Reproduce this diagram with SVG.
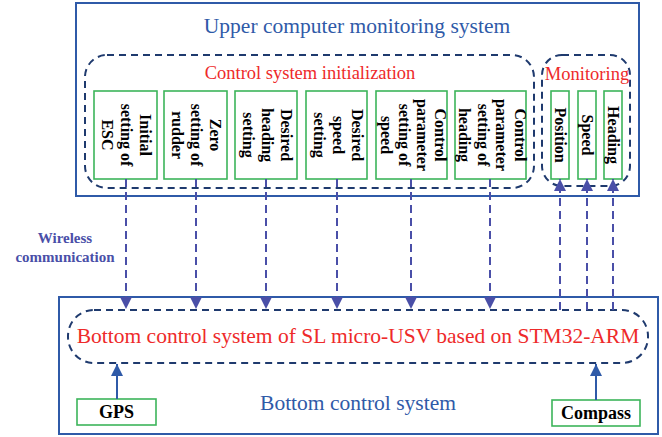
<svg xmlns="http://www.w3.org/2000/svg" width="662" height="437" viewBox="0 0 662 437">
  <defs>
    <marker id="arrowLink" viewBox="0 0 10 10" refX="10" refY="5" markerWidth="12" markerHeight="12" markerUnits="userSpaceOnUse" orient="auto">
      <path d="M0,0 L10,5 L0,10 Z" fill="#4a4fa8"/>
    </marker>
    <marker id="arrowSensor" viewBox="0 0 10 10" refX="10" refY="5" markerWidth="12" markerHeight="12" markerUnits="userSpaceOnUse" orient="auto">
      <path d="M0,0 L10,5 L0,10 Z" fill="#2f5aa8"/>
    </marker>
  </defs>
  <style>
    .frame { fill: none; stroke: #2f5aa8; stroke-width: 2; }
    .group { fill: none; stroke: #1f3a6e; stroke-width: 2; stroke-dasharray: 7 5; }
    .box { fill: #ffffff; stroke: #3cb55a; stroke-width: 1.6; }
    .title { font-family: "Liberation Serif", "Times New Roman", serif; font-size: 21.5px; fill: #2f5aa8; text-anchor: middle; }
    .red { font-family: "Liberation Serif", "Times New Roman", serif; fill: #ee2a2a; text-anchor: middle; }
    .vlabel { font-family: "Liberation Serif", "Times New Roman", serif; font-size: 16px; font-weight: bold; fill: #000000; text-anchor: middle; }
    .sensor { font-family: "Liberation Serif", "Times New Roman", serif; font-size: 18px; font-weight: bold; fill: #000000; text-anchor: middle; }
    .wl { font-family: "Liberation Serif", "Times New Roman", serif; font-size: 15px; font-weight: bold; fill: #4a4fa8; text-anchor: middle; }
    .link { fill: none; stroke: #4a4fa8; stroke-width: 2; stroke-dasharray: 8 5; }
    .feed { fill: none; stroke: #2f5aa8; stroke-width: 2; }
  </style>

  <!-- Upper computer monitoring system -->
  <g id="upper-system">
    <rect class="frame" x="76" y="3" width="563" height="193"/>
    <text class="title" x="357" y="33">Upper computer monitoring system</text>
  </g>

  <g id="init-group">
    <rect class="group" x="85" y="55" width="449" height="133" rx="22" ry="22"/>
    <text class="red" x="310" y="79" font-size="18.5px">Control system initialization</text>
  </g>

  <g id="monitor-group">
    <rect class="group" x="542" y="55" width="88" height="131" rx="20" ry="20"/>
    <text class="red" x="587" y="80" font-size="18.5px">Monitoring</text>
  </g>

  <!-- initialization items (text rotated to read top-down) -->
  <g id="esc">
    <rect class="box" x="94" y="91" width="63" height="88"/>
    <g transform="translate(125.5,135) rotate(90)">
      <text class="vlabel" x="0" y="-14">Initial</text>
      <text class="vlabel" x="0" y="5">setting of</text>
      <text class="vlabel" x="0" y="24">ESC</text>
    </g>
  </g>
  <g id="rudder">
    <rect class="box" x="164" y="91" width="63" height="88"/>
    <g transform="translate(195.5,135) rotate(90)">
      <text class="vlabel" x="0" y="-14">Zero</text>
      <text class="vlabel" x="0" y="5">setting of</text>
      <text class="vlabel" x="0" y="24">rudder</text>
    </g>
  </g>
  <g id="heading-set">
    <rect class="box" x="235" y="91" width="62" height="88"/>
    <g transform="translate(266,135) rotate(90)">
      <text class="vlabel" x="0" y="-15">Desired</text>
      <text class="vlabel" x="0" y="4">heading</text>
      <text class="vlabel" x="0" y="23">setting</text>
    </g>
  </g>
  <g id="speed-set">
    <rect class="box" x="306" y="91" width="61" height="88"/>
    <g transform="translate(336.5,135) rotate(90)">
      <text class="vlabel" x="0" y="-15">Desired</text>
      <text class="vlabel" x="0" y="4">speed</text>
      <text class="vlabel" x="0" y="23">setting</text>
    </g>
  </g>
  <g id="speed-param">
    <rect class="box" x="376" y="91" width="71" height="88"/>
    <g transform="translate(411.5,135) rotate(90)">
      <text class="vlabel" x="0" y="-23">Control</text>
      <text class="vlabel" x="0" y="-5">parameter</text>
      <text class="vlabel" x="0" y="13">setting of</text>
      <text class="vlabel" x="0" y="31">speed</text>
    </g>
  </g>
  <g id="heading-param">
    <rect class="box" x="455" y="91" width="71" height="88"/>
    <g transform="translate(490.5,135) rotate(90)">
      <text class="vlabel" x="0" y="-24">Control</text>
      <text class="vlabel" x="0" y="-5">parameter</text>
      <text class="vlabel" x="0" y="13">setting of</text>
      <text class="vlabel" x="0" y="32">heading</text>
    </g>
  </g>

  <!-- monitoring items -->
  <g id="position">
    <rect class="box" x="551" y="91" width="18" height="88"/>
    <text class="vlabel" transform="translate(560,135) rotate(90)" x="0" y="5">Position</text>
  </g>
  <g id="speed">
    <rect class="box" x="578" y="91" width="18" height="88"/>
    <text class="vlabel" transform="translate(587,135) rotate(90)" x="0" y="5">Speed</text>
  </g>
  <g id="heading">
    <rect class="box" x="604" y="91" width="18" height="88"/>
    <text class="vlabel" transform="translate(613,135) rotate(90)" x="0" y="5">Heading</text>
  </g>

  <!-- Bottom control system -->
  <g id="bottom-system">
    <rect class="frame" x="59" y="297" width="599" height="137"/>
    <text class="title" x="358" y="410">Bottom control system</text>
  </g>
  <g id="mcu">
    <rect class="group" x="68" y="310" width="580" height="53" rx="26" ry="26"/>
    <text class="red" x="358" y="343" font-size="21.5px">Bottom control system of SL micro-USV based on STM32-ARM</text>
  </g>
  <g id="gps">
    <rect class="box" x="77" y="399" width="79" height="26"/>
    <text class="sensor" x="116.5" y="418">GPS</text>
  </g>
  <g id="compass">
    <rect class="box" x="552" y="400" width="88" height="26"/>
    <text class="sensor" x="596" y="419">Compass</text>
  </g>

  <g id="wireless-label">
    <text class="wl" x="65" y="243">Wireless</text>
    <text class="wl" x="65" y="262">communication</text>
  </g>

  <!-- connectors -->
  <g id="connectors">
    <path class="link" d="M126,179 V309" marker-end="url(#arrowLink)"/>
    <path class="link" d="M196,179 V309" marker-end="url(#arrowLink)"/>
    <path class="link" d="M266,179 V309" marker-end="url(#arrowLink)"/>
    <path class="link" d="M337,179 V309" marker-end="url(#arrowLink)"/>
    <path class="link" d="M411,179 V309" marker-end="url(#arrowLink)"/>
    <path class="link" d="M490,179 V309" marker-end="url(#arrowLink)"/>
    <path class="link" d="M560,310 V179" marker-end="url(#arrowLink)"/>
    <path class="link" d="M587,310 V179" marker-end="url(#arrowLink)"/>
    <path class="link" d="M613,310 V179" marker-end="url(#arrowLink)"/>
    <path class="feed" d="M117,399 V364" marker-end="url(#arrowSensor)"/>
    <path class="feed" d="M596,400 V364" marker-end="url(#arrowSensor)"/>
  </g>
</svg>
